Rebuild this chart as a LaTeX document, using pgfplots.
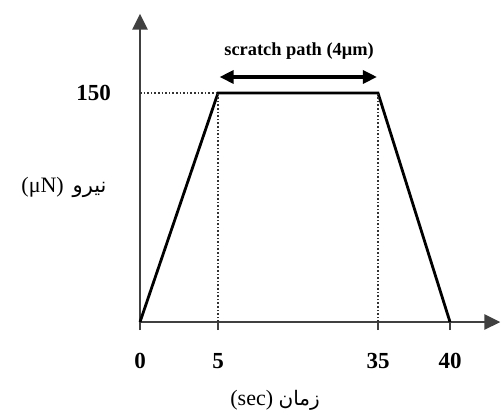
\documentclass[border=0pt]{standalone}
\usepackage{pgfplots}
\pgfplotsset{compat=1.18}
\usetikzlibrary{arrows.meta}
\usepackage{fontspec}
\setmainfont{Liberation Serif}
\newfontfamily\arabicfont[Script=Arabic]{DejaVu Sans}
\TeXXeTstate=1

\begin{document}
\begin{tikzpicture}
\begin{axis}[
  x=0.5pt, y=0.7633pt,
  % time axis is drawn piecewise linear: 0-5, 5-35 and 35-40 s each get their own stretch
  x coord trafo/.code={\pgfmathparse{#1<=5 ? #1*15.6 : (#1<=35 ? 78+(#1-5)*16/3 : 238+(#1-35)*14.4)}},
  xmin=0, xmax=43.5, ymin=0, ymax=202,
  enlargelimits=false,
  clip=false,
  axis lines=left,
  axis line style={draw=black!75, line width=1.4pt, -{Triangle[length=8pt,width=7.5pt]}},
  xtick={0,5,35,40},
  xticklabels={0,5,35,40},
  ytick={150},
  yticklabels={150},
  tick align=outside,
  major tick length=4pt,
  x tick style={draw=black!75, line width=1pt},
  y tick style={draw=none},
  ticklabel style={font=\fontsize{11.5}{12}\selectfont\bfseries},
  xticklabel style={yshift=-8pt},
  yticklabel style={xshift=-7pt},
]
% load profile
\addplot[black, line width=1.4pt] coordinates {(0,0) (5,150) (35,150) (40,0)};
% guide lines
\addplot[black!80, densely dotted, line width=0.8pt] coordinates {(0,150) (5,150)};
\addplot[black!80, densely dotted, line width=0.8pt] coordinates {(5,0) (5,150)};
\addplot[black!80, densely dotted, line width=0.8pt] coordinates {(35,0) (35,150)};
% scratch path span
\addplot[black, line width=1.6pt, {Triangle[length=7pt,width=6.5pt]}-{Triangle[length=7pt,width=6.5pt]}] coordinates {(5.3,160.5) (34.8,160.5)};
\node[font=\fontsize{9.2}{10}\selectfont\bfseries] at (axis cs:20.2,177.5) {scratch path (4μm)};
% axis titles
\node[font=\fontsize{11}{12}\selectfont] at (axis cs:0,88.4) [xshift=-38pt] {(μN)\hspace{0.4em}{\arabicfont\fontsize{10.5}{12}\selectfont\beginR نیرو\endR}};
\node[font=\fontsize{11}{12}\selectfont] at (axis cs:15.7,0) [yshift=-39pt] {(sec) {\arabicfont\fontsize{10}{12}\selectfont\beginR زمان\endR}};
\coordinate (o) at (axis cs:0,0);
\end{axis}
\pgfresetboundingbox
\path ([shift={(-70pt,-46pt)}]o) rectangle ([shift={(181pt,161pt)}]o);
\end{tikzpicture}
\end{document}
